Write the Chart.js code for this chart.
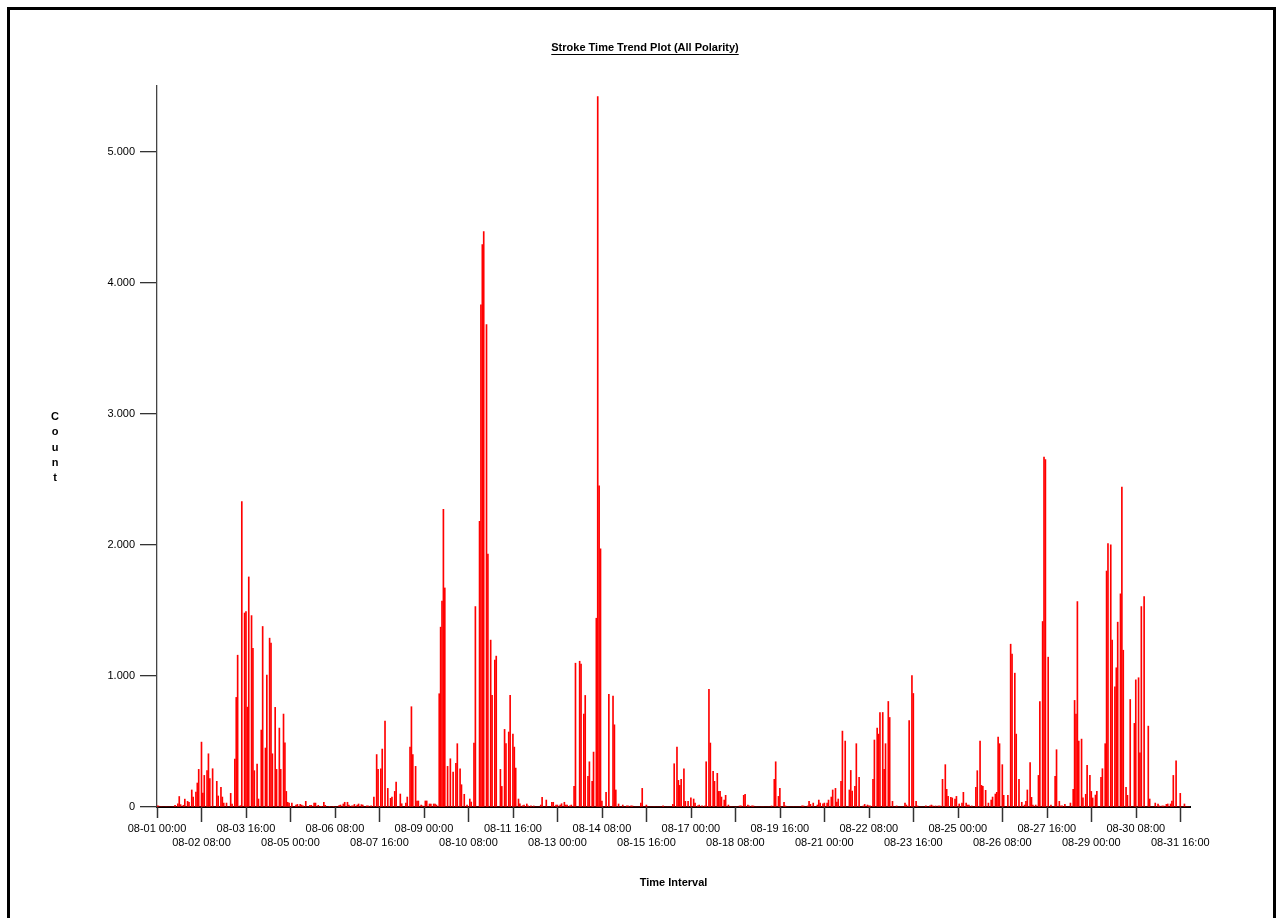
<!DOCTYPE html>
<html><head><meta charset="utf-8">
<script src="https://cdn.jsdelivr.net/npm/chart.js@4.4.1/dist/chart.umd.min.js"></script>
<style>
html,body{margin:0;padding:0;background:#fff;overflow:hidden;}
#wrap{position:absolute;left:0;top:0;width:1276px;height:918px;}
#frame{position:absolute;left:7px;top:7px;width:1263px;height:1000px;border:3px solid #000;pointer-events:none;}
</style></head><body>
<div id="wrap"><canvas id="c"></canvas></div>
<div id="frame"></div>
<script>
const chartTitle = 'Stroke Time Trend Plot (All Polarity)';
const xTitle = 'Time Interval';
const yTitle = 'Count';
const tickLabels = ['08-01 00:00','08-02 08:00','08-03 16:00','08-05 00:00','08-06 08:00','08-07 16:00',
  '08-09 00:00','08-10 08:00','08-11 16:00','08-13 00:00','08-14 08:00','08-15 16:00',
  '08-17 00:00','08-18 08:00','08-19 16:00','08-21 00:00','08-22 08:00','08-23 16:00',
  '08-25 00:00','08-26 08:00','08-27 16:00','08-29 00:00','08-30 08:00','08-31 16:00'];
const yTicks = [0,1000,2000,3000,4000,5000];
const yMax = 5500;
// hourly stroke counts, one line per day (08-01 ... 08-31)
const counts = [
 8,8,0,0,0,0,0,0,0,0,0,0,0,13,0,25,80,18,0,13,60,0,43,36,
 0,130,76,0,114,183,287,0,495,107,241,0,277,406,216,0,292,0,0,196,84,0,150,76,
 30,0,30,0,0,104,23,0,366,836,1158,0,10,2330,0,1480,1490,762,1755,0,1460,1211,277,0,
 328,61,0,587,1377,0,450,1006,0,1288,1250,406,0,760,287,0,602,287,0,709,490,119,36,30,
 0,30,0,0,15,20,0,20,15,8,0,43,0,0,13,13,0,30,30,0,13,0,5,0,
 36,13,0,0,5,0,0,5,0,0,0,10,15,0,23,36,0,36,15,0,8,8,20,0,
 15,23,0,18,15,0,0,8,8,0,8,0,76,0,400,287,0,292,442,0,655,0,142,0,
 66,76,0,119,190,0,0,99,25,0,0,30,76,0,457,765,400,0,310,46,46,0,15,8,
 0,46,46,0,23,23,0,23,23,15,0,864,1372,1570,2270,1671,0,310,0,368,0,267,0,333,
 483,0,292,170,0,97,0,15,0,61,38,0,488,1529,0,0,2180,3830,4290,4390,0,3680,1930,0,
 1273,851,0,1120,1151,0,0,287,157,0,592,483,0,572,851,0,556,457,297,0,61,25,0,10,
 15,0,23,8,0,8,0,8,0,0,0,0,15,74,0,0,53,0,0,0,36,36,0,15,
 15,0,15,25,0,36,15,15,0,8,15,0,157,1097,0,0,1112,1090,0,709,851,0,234,345,
 0,196,419,0,1440,5420,2450,1970,46,0,0,112,0,859,0,0,846,627,130,0,23,0,0,15,
 0,0,8,8,0,8,8,0,0,0,0,0,30,142,0,0,15,0,0,0,0,0,0,0,
 0,0,0,0,8,0,0,0,0,0,0,20,330,0,457,203,165,211,0,292,43,0,43,0,
 69,0,61,30,0,8,15,0,8,0,8,345,0,897,488,0,272,196,0,257,119,119,76,0,
 53,89,0,15,0,0,0,0,0,0,0,8,8,0,89,97,0,15,8,0,8,8,0,0,
 0,0,0,0,0,0,0,0,0,0,8,0,211,345,0,81,142,0,0,36,8,0,0,0,
 0,0,0,0,0,0,0,0,8,8,0,0,8,43,20,0,30,0,0,15,53,30,0,25,
 30,0,30,53,0,76,130,0,142,38,61,0,196,579,0,503,0,0,130,279,122,0,157,483,
 0,226,0,0,8,20,0,15,8,8,0,211,511,0,602,556,721,0,721,287,483,0,805,683,
 0,43,0,0,8,0,0,0,0,0,30,15,0,660,0,1003,866,0,43,8,0,0,0,0,
 0,8,0,0,8,15,8,0,8,0,8,8,0,211,0,323,135,81,0,74,69,0,61,81,
 0,23,0,30,112,0,30,15,15,0,8,0,0,150,277,0,503,165,157,0,127,0,30,0,
 53,76,0,99,112,533,483,0,323,89,0,0,89,0,1242,1166,0,1021,556,0,211,0,36,0,
 15,43,130,0,338,74,15,0,15,0,241,805,0,1415,2670,2650,0,1143,0,15,0,0,234,437,
 0,43,8,8,0,20,0,0,0,30,0,135,813,709,1567,503,0,518,69,0,97,318,0,241,
 119,69,0,91,119,0,0,226,292,0,483,1800,2010,0,2000,1273,0,917,1062,1410,0,1626,2440,1196,
 0,150,89,0,820,0,0,638,970,0,986,414,1529,0,1605,0,0,617,61,0,0,0,30,0,
 23,8,0,8,8,0,20,23,0,23,46,241,0,353,0,0,104,0,0,23,0,0,0,0
];
const categories = [];
for (let d = 1; d <= 31; d++) for (let h = 0; h < 24; h++)
  categories.push('08-' + String(d).padStart(2,'0') + ' ' + String(h).padStart(2,'0') + ':00');

const FONT = '"Liberation Sans", Arial, Helvetica, sans-serif';
function fmt(v){ return String(v).replace(/\B(?=(\d{3})+(?!\d))/g, '.'); }

const decor = {
  id: 'decor',
  afterDraw(chart){
    const ctx = chart.ctx, xs = chart.scales.x, ca = chart.chartArea;
    ctx.save();
    // x tick marks
    ctx.strokeStyle = '#333'; ctx.lineWidth = 1.5;
    tickLabels.forEach((lab, k) => {
      const i = categories.indexOf(lab);
      if (i < 0) return;
      const x = Math.round(xs.getPixelForValue(i)) + 0.5;
      ctx.beginPath(); ctx.moveTo(x, xs.top); ctx.lineTo(x, xs.top + (k % 2 ? 15 : 11)); ctx.stroke();
    });
    ctx.fillStyle = '#000';
    ctx.font = 'bold 11px ' + FONT;
    ctx.textAlign = 'center'; ctx.textBaseline = 'middle';
    // main title with underline
    const tx = 645, ty = 48;
    ctx.fillText(chartTitle, tx, ty);
    const w = ctx.measureText(chartTitle).width;
    ctx.strokeStyle = '#000'; ctx.lineWidth = 1;
    ctx.beginPath(); ctx.moveTo(tx - w/2, ty + 6.5); ctx.lineTo(tx + w/2, ty + 6.5); ctx.stroke();
    // x title
    ctx.fillText(xTitle, (ca.left + ca.right)/2, 883);
    // y title, stacked letters
    yTitle.split('').forEach((ch, i) => ctx.fillText(ch, 55, 417 + i * 15.3));
    ctx.restore();
  }
};

new Chart(document.getElementById('c'), {
  type: 'bar',
  data: { labels: categories, datasets: [{ data: counts, backgroundColor: '#ff0000', borderWidth: 0, barThickness: 1 }] },
  options: {
    responsive: true, maintainAspectRatio: false, animation: false, devicePixelRatio: 1,
    layout: { padding: { left: 0, right: 86, top: 86, bottom: 0 } },
    plugins: { legend: { display: false }, tooltip: { enabled: false }, title: { display: false } },
    scales: {
      x: {
        type: 'category', offset: false,
        grid: { display: false, drawTicks: false, offset: false },
        border: { display: true, color: '#000', width: 2 },
        ticks: {
          autoSkip: false, maxRotation: 0, minRotation: 0, padding: 15, color: '#000',
          font: { family: FONT, size: 11, lineHeight: 14/11 },
          callback: function(v){
            const lab = this.getLabelForValue(v);
            const k = tickLabels.indexOf(lab);
            if (k < 0) return '';
            return k % 2 ? ['', lab] : [lab];
          }
        },
        afterFit(s){ s.height = 111; }
      },
      y: {
        min: 0, max: yMax,
        grid: { display: true, drawOnChartArea: false, drawTicks: true, tickLength: 17, color: '#333', lineWidth: 1.3 },
        border: { display: true, color: '#444', width: 1.3 },
        ticks: { padding: 5, color: '#000', font: { family: FONT, size: 11 }, callback: v => fmt(v) },
        afterBuildTicks(s){ s.ticks = yTicks.map(v => ({ value: v })); },
        afterFit(s){ s.width = 157; }
      }
    }
  },
  plugins: [decor]
});
</script>
</body></html>
